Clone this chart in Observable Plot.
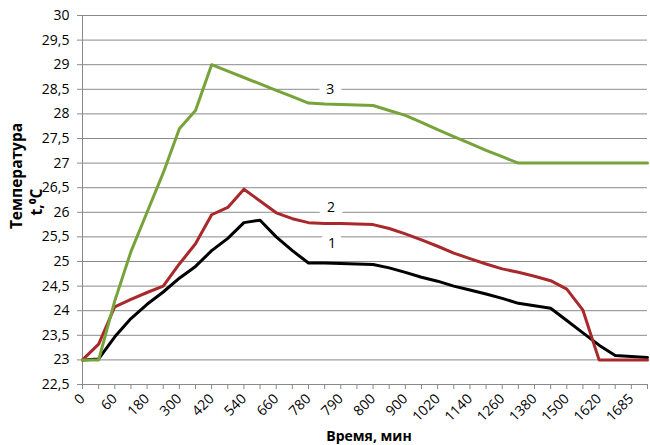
<!DOCTYPE html>
<html>
<head>
<meta charset="utf-8">
<script src="https://cdn.jsdelivr.net/npm/d3@7"></script>
<script src="https://cdn.jsdelivr.net/npm/@observablehq/plot@0.6"></script>
<style>
  html, body { margin: 0; padding: 0; background: #fff; }
  #chart svg { display: block; font-family: "Open Sans", sans-serif; }
</style>
</head>
<body>
<div id="chart"></div>
<script>
// Category tick labels (every other category is labelled)
const tickLabels = ["0", "60", "180", "300", "420", "540", "660", "780", "790",
  "800", "900", "1020", "1140", "1260", "1380", "1500", "1620", "1685"];

// Series values, one per category (36 categories)
const series1 = [23.0, 23.02, 23.47, 23.84, 24.13, 24.38, 24.66, 24.9, 25.22, 25.47,
  25.79, 25.84, 25.5, 25.22, 24.97, 24.97, 24.96, 24.95, 24.94, 24.87,
  24.78, 24.68, 24.6, 24.5, 24.42, 24.34, 24.25, 24.15, 24.1, 24.05,
  23.8, 23.55, 23.3, 23.09, 23.07, 23.05];
const series2 = [23.0, 23.32, 24.08, 24.23, 24.37, 24.5, 24.95, 25.36, 25.95, 26.1,
  26.47, 26.23, 25.99, 25.87, 25.79, 25.77, 25.77, 25.76, 25.75, 25.67,
  25.56, 25.44, 25.31, 25.17, 25.06, 24.95, 24.85, 24.78, 24.7, 24.61,
  24.44, 24.01, 23.0, 23.0, 23.0, 23.0];
const series3 = [23.0, 23.0, 24.2, 25.2, 26.0, 26.8, 27.7, 28.07, 29.0, 28.87,
  28.74, 28.61, 28.48, 28.35, 28.22, 28.2, 28.19, 28.18, 28.17, 28.07,
  27.97, 27.83, 27.68, 27.54, 27.4, 27.26, 27.13, 27.0, 27.0, 27.0,
  27.0, 27.0, 27.0, 27.0, 27.0, 27.0];

const seriesNames = ["1", "2", "3"];
const seriesColors = ["#000000", "#a8282b", "#77a33a"];
// Label anchors (category index, value)
const labelX = [15.45, 15.4, 15.35];
const labelY = [25.37, 26.09, 28.49];

const yTicks = d3.range(22.5, 30.001, 0.5);

const rows = [];
[series1, series2, series3].forEach((s, k) => {
  s.forEach((v, i) => rows.push({i, v, name: seriesNames[k]}));
});
const labels = seriesNames.map((n, k) => ({x: labelX[k], y: labelY[k], t: n}));

const fmt = d => String(d).replace(".", ",");

const svg = Plot.plot({
  width: 650,
  height: 445,
  marginLeft: 82,
  marginRight: 3,
  marginTop: 15,
  marginBottom: 61,
  style: {fontFamily: "Open Sans, sans-serif", fontSize: "14px", color: "#000", background: "#fff"},
  x: {type: "linear", domain: [0, tickLabels.length * 2 - 1]},
  y: {domain: [22.5, 30]},
  color: {domain: seriesNames, range: seriesColors},
  marks: [
    Plot.ruleY(yTicks, {stroke: "#8a8a8a", strokeWidth: 1}),
    Plot.ruleX([0], {stroke: "#8a8a8a", strokeWidth: 1}),
    Plot.axisY({ticks: yTicks, tickFormat: fmt, tickSize: 5, tickPadding: 8,
      stroke: "#8a8a8a", fill: "#000", label: null, fontSize: 14}),
    Plot.axisX({ticks: d3.range(tickLabels.length * 2),
      tickFormat: i => (i % 2 ? "" : tickLabels[i / 2]),
      tickRotate: -45, tickSize: 5, tickPadding: 7,
      stroke: "#8a8a8a", fill: "#000", label: null, fontSize: 14}),
    Plot.text(labels, {x: "x", y: "y", text: "t", fill: "#000", stroke: "#fff",
      strokeWidth: 16, fontSize: 14}),
    Plot.line(rows, {x: "i", y: "v", z: "name", stroke: "name", strokeWidth: 3,
      strokeLinejoin: "round"})
  ]
});

const s = d3.select(svg);
s.append("text")
  .attr("x", 369).attr("y", 441)
  .attr("text-anchor", "middle")
  .attr("font-weight", "bold").attr("font-size", 14).attr("fill", "#000")
  .text("Время, мин");
s.append("text")
  .attr("transform", "translate(22,176) rotate(-90)")
  .attr("text-anchor", "middle")
  .attr("font-weight", "bold").attr("font-size", 15.5).attr("fill", "#000")
  .text("Температура");
s.append("text")
  .attr("transform", "translate(42,202) rotate(-90)")
  .attr("text-anchor", "middle")
  .attr("font-weight", "bold").attr("font-size", 15.5).attr("fill", "#000")
  .text("t,⁰C");

document.getElementById("chart").append(svg);
</script>
</body>
</html>
